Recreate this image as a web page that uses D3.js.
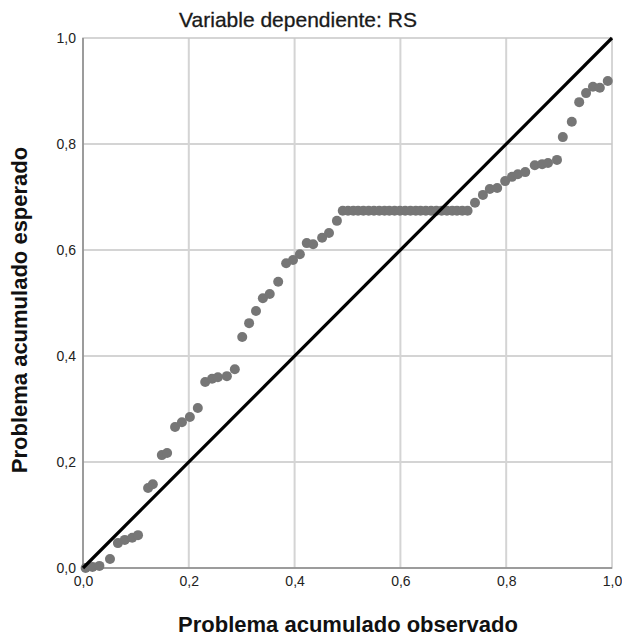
<!DOCTYPE html>
<html><head><meta charset="utf-8">
<script src="https://cdn.jsdelivr.net/npm/d3@7"></script>
<style>body{margin:0;background:#fff;}svg{display:block;font-family:"Liberation Sans",Arial,sans-serif;}</style>
</head><body>
<svg id="c" width="622" height="639"></svg>
<script>
const titleText = "Variable dependiente: RS";
const xTitle = "Problema acumulado observado";
const yTitle = "Problema acumulado esperado";
const tickValues = [0, 0.2, 0.4, 0.6, 0.8, 1.0];
const tickLabels = ["0,0", "0,2", "0,4", "0,6", "0,8", "1,0"];
const observed = [0.005, 0.018, 0.031, 0.051, 0.066, 0.079, 0.093, 0.104, 0.123, 0.132, 0.149, 0.159,
  0.174, 0.187, 0.202, 0.217, 0.231, 0.244, 0.255, 0.272, 0.287, 0.301, 0.314, 0.327, 0.340, 0.353,
  0.369, 0.384, 0.397, 0.410, 0.423, 0.435, 0.452, 0.465, 0.480,
  0.491, 0.501, 0.511, 0.520, 0.530, 0.540, 0.550, 0.560, 0.570, 0.579, 0.589, 0.599, 0.609, 0.619,
  0.629, 0.638, 0.648, 0.658, 0.668, 0.678, 0.688, 0.698, 0.707, 0.717, 0.727,
  0.741, 0.756, 0.769, 0.783, 0.798, 0.811, 0.822, 0.836, 0.854, 0.868, 0.879, 0.896, 0.907, 0.924,
  0.938, 0.951, 0.964, 0.977, 0.992];
const expected = [0.000, 0.002, 0.004, 0.017, 0.047, 0.053, 0.057, 0.062, 0.151, 0.158, 0.213, 0.217,
  0.266, 0.275, 0.285, 0.302, 0.351, 0.357, 0.360, 0.362, 0.375, 0.436, 0.462, 0.485, 0.509, 0.517,
  0.540, 0.575, 0.581, 0.592, 0.613, 0.611, 0.623, 0.632, 0.655,
  0.674, 0.674, 0.674, 0.674, 0.674, 0.674, 0.674, 0.674, 0.674, 0.674, 0.674, 0.674, 0.674, 0.674,
  0.674, 0.674, 0.674, 0.674, 0.674, 0.674, 0.674, 0.674, 0.674, 0.674, 0.674,
  0.689, 0.704, 0.715, 0.717, 0.730, 0.738, 0.743, 0.747, 0.760, 0.762, 0.764, 0.770, 0.813, 0.842,
  0.879, 0.896, 0.908, 0.906, 0.919];
const diagonal = [[0, 0], [1, 1]];

const svg = d3.select("#c");
const L = 83, R = 612, T = 38, B = 568;
const x = d3.scaleLinear().domain([0, 1]).range([L, R]);
const y = d3.scaleLinear().domain([0, 1]).range([B, T]);

// grid
const g = svg.append("g");
g.selectAll(".gx").data(tickValues.slice(1, -1)).join("line")
  .attr("x1", d => x(d)).attr("x2", d => x(d)).attr("y1", T).attr("y2", B)
  .attr("stroke", "#d4d4d4").attr("stroke-width", 2);
g.selectAll(".gy").data(tickValues.slice(1, -1)).join("line")
  .attr("y1", d => y(d)).attr("y2", d => y(d)).attr("x1", L).attr("x2", R)
  .attr("stroke", "#d4d4d4").attr("stroke-width", 2);
g.append("rect").attr("x", L).attr("y", T).attr("width", R - L).attr("height", B - T)
  .attr("fill", "none").attr("stroke", "#c8c8c8").attr("stroke-width", 1.5);
g.append("line").attr("x1", L).attr("x2", L).attr("y1", T).attr("y2", B).attr("stroke", "#888").attr("stroke-width", 1.5);
g.append("line").attr("x1", L).attr("x2", R).attr("y1", B).attr("y2", B).attr("stroke", "#888").attr("stroke-width", 1.5);

// axes labels via d3 axes
const xAxis = d3.axisBottom(x).tickValues(tickValues).tickFormat((d, i) => tickLabels[i]).tickSize(0).tickPadding(8);
const yAxis = d3.axisLeft(y).tickValues(tickValues).tickFormat((d, i) => tickLabels[i]).tickSize(0).tickPadding(7);
const gx = svg.append("g").attr("transform", `translate(0,${B})`).call(xAxis);
const gy = svg.append("g").attr("transform", `translate(${L},0)`).call(yAxis);
[gx, gy].forEach(a => {
  a.select(".domain").remove();
  a.selectAll("text").attr("font-size", 14).attr("fill", "#222").attr("font-family", "Liberation Sans, Arial, sans-serif");
});

// points
svg.append("g").selectAll("circle").data(observed.map((v, i) => [v, expected[i]])).join("circle")
  .attr("cx", d => x(d[0])).attr("cy", d => y(d[1])).attr("r", 5).attr("fill", "#767676");

// diagonal
svg.append("path").datum(diagonal)
  .attr("d", d3.line().x(d => x(d[0])).y(d => y(d[1])))
  .attr("stroke", "#000").attr("stroke-width", 3.2).attr("fill", "none");

// titles
svg.append("text").attr("x", 298).attr("y", 27).attr("text-anchor", "middle")
  .attr("font-size", 21).attr("fill", "#1a1a1a").attr("stroke", "#1a1a1a").attr("stroke-width", 0.3).text(titleText);
svg.append("text").attr("x", 348).attr("y", 632).attr("text-anchor", "middle")
  .attr("font-size", 22).attr("font-weight", "bold").attr("fill", "#111").text(xTitle);
svg.append("text").attr("transform", "translate(27,310) rotate(-90)").attr("text-anchor", "middle")
  .attr("font-size", 22).attr("font-weight", "bold").attr("fill", "#111").text(yTitle);
</script>
</body></html>
